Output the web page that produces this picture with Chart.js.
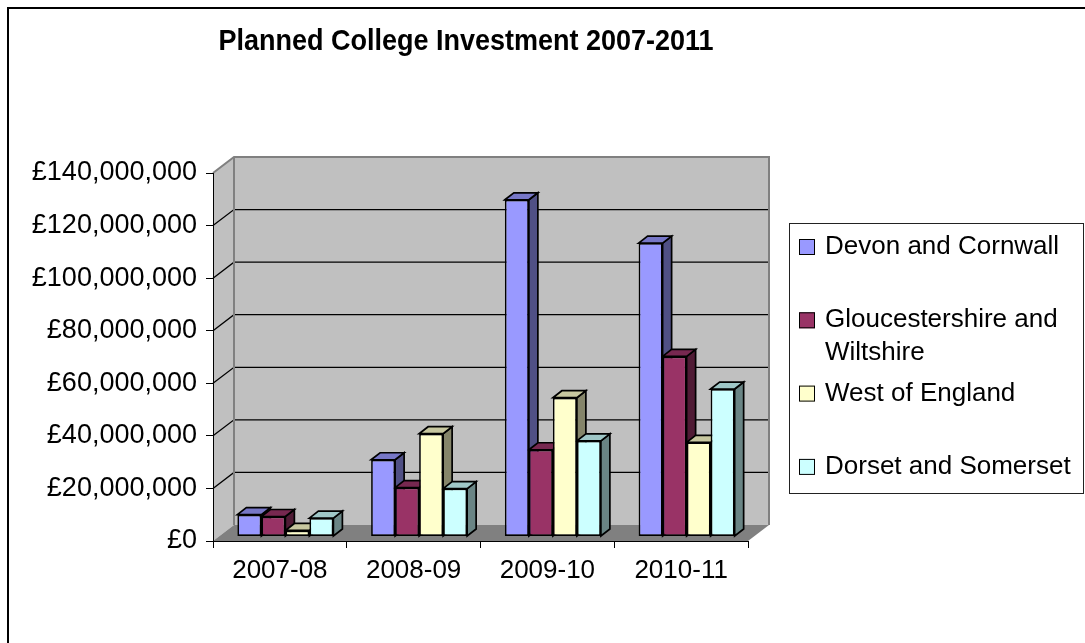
<!DOCTYPE html>
<html>
<head>
<meta charset="utf-8">
<title>Planned College Investment 2007-2011</title>
<script src="https://cdn.jsdelivr.net/npm/chart.js@4.4.1/dist/chart.umd.min.js"></script>
<style>
  html, body { margin: 0; padding: 0; background: #fff; }
  #wrap { width: 1085px; height: 643px; }
</style>
</head>
<body>
<div id="wrap"><canvas id="chart" width="1085" height="643"></canvas></div>
<script>
// ── data ──────────────────────────────────────────
const TITLE = 'Planned College Investment 2007-2011';
const categories = ['2007-08', '2008-09', '2009-10', '2010-11'];
const seriesNames = ['Devon and Cornwall', 'Gloucestershire and Wiltshire', 'West of England', 'Dorset and Somerset'];

const devonCornwall  = [8300000, 29200000, 128100000, 111600000];
const gloucsWilts    = [7600000, 18600000, 33000000, 68500000];
const westOfEngland  = [2300000, 39100000, 52800000, 35800000];
const dorsetSomerset = [7000000, 18200000, 36400000, 56100000];

const Y_MAX = 140000000;
const Y_STEP = 20000000;

// ── look ──────────────────────────────────────────
const FONT = '"Liberation Sans", Arial, sans-serif';
const COLORS = ['#9999FF', '#993366', '#FFFFCC', '#CCFFFF'];

// oblique depth: whole wall, bar front offset, bar depth
const WALL_DX = 21, WALL_DY = -16;
const BAR_OFF_X = 5.5, BAR_OFF_Y = -4.5;
const BAR_DX = 9, BAR_DY = -7;

function shade(hex, f) {
  const n = parseInt(hex.slice(1), 16);
  const r = Math.round(((n >> 16) & 255) * f);
  const g = Math.round(((n >> 8) & 255) * f);
  const b = Math.round((n & 255) * f);
  return `rgb(${r},${g},${b})`;
}

function pounds(v) {
  return '£' + String(Math.round(v)).replace(/\B(?=(\d{3})+(?!\d))/g, ',');
}

function poly(ctx, pts, fill, stroke, lw) {
  ctx.beginPath();
  ctx.moveTo(pts[0][0], pts[0][1]);
  for (let i = 1; i < pts.length; i++) ctx.lineTo(pts[i][0], pts[i][1]);
  ctx.closePath();
  if (fill) { ctx.fillStyle = fill; ctx.fill(); }
  if (stroke) { ctx.strokeStyle = stroke; ctx.lineWidth = lw || 1; ctx.stroke(); }
}

// ── walls, floor, bar tops/sides, title, legend ───
const excel3d = {
  id: 'excel3d',

  beforeDraw(chart) {
    const ctx = chart.ctx;
    const { left, right, top, bottom } = chart.chartArea;
    const y = chart.scales.y;

    ctx.save();
    ctx.fillStyle = '#fff';
    ctx.fillRect(0, 0, chart.width, chart.height);

    // outer frame (runs off the right and bottom edge)
    ctx.strokeStyle = '#000';
    ctx.lineWidth = 2;
    ctx.strokeRect(8, 8, chart.width + 20, chart.height + 20);

    // side wall, back wall, floor
    poly(ctx, [[left, top], [left + WALL_DX, top + WALL_DY], [left + WALL_DX, bottom + WALL_DY], [left, bottom]], '#C0C0C0');
    poly(ctx, [[left + WALL_DX, top + WALL_DY], [right + WALL_DX, top + WALL_DY], [right + WALL_DX, bottom + WALL_DY], [left + WALL_DX, bottom + WALL_DY]], '#C0C0C0');
    poly(ctx, [[left, bottom], [right, bottom], [right + WALL_DX, bottom + WALL_DY], [left + WALL_DX, bottom + WALL_DY]], '#808080');

    // gridlines on side + back wall
    ctx.strokeStyle = '#000';
    ctx.lineWidth = 1.3;
    y.ticks.forEach(t => {
      if (t.value <= y.min || t.value >= y.max) return;
      const py = y.getPixelForValue(t.value);
      ctx.beginPath();
      ctx.moveTo(left, py);
      ctx.lineTo(left + WALL_DX, py + WALL_DY);
      ctx.lineTo(right + WALL_DX, py + WALL_DY);
      ctx.stroke();
    });

    // wall edges
    ctx.strokeStyle = '#808080';
    ctx.lineWidth = 2;
    ctx.beginPath();
    ctx.moveTo(left, top);
    ctx.lineTo(left + WALL_DX, top + WALL_DY);
    ctx.lineTo(right + WALL_DX, top + WALL_DY);
    ctx.lineTo(right + WALL_DX, bottom + WALL_DY);
    ctx.moveTo(left + WALL_DX, top + WALL_DY);
    ctx.lineTo(left + WALL_DX, bottom + WALL_DY);
    ctx.stroke();
    ctx.restore();
  },

  // tops and sides of every bar, left to right, before the fronts
  beforeDatasetsDraw(chart) {
    const ctx = chart.ctx;
    ctx.save();
    ctx.translate(BAR_OFF_X, BAR_OFF_Y);
    ctx.lineJoin = 'miter';
    chart.data.datasets.forEach((ds, d) => {
      const meta = chart.getDatasetMeta(d);
      const base = COLORS[d];
      meta.data.forEach(bar => {
        const p = bar.getProps(['x', 'y', 'base', 'width'], true);
        const l = p.x - p.width / 2, r = p.x + p.width / 2;
        poly(ctx, [[r, p.y], [r + BAR_DX, p.y + BAR_DY], [r + BAR_DX, p.base + BAR_DY], [r, p.base]], shade(base, 0.52), '#000', 1.7);
        poly(ctx, [[l, p.y], [l + BAR_DX, p.y + BAR_DY], [r + BAR_DX, p.y + BAR_DY], [r, p.y]], shade(base, 0.78), '#000', 1.7);
      });
    });
    ctx.restore();
  },

  beforeDatasetDraw(chart) {
    chart.ctx.save();
    chart.ctx.translate(BAR_OFF_X, BAR_OFF_Y);
  },

  afterDatasetDraw(chart) {
    chart.ctx.restore();
  },

  afterDraw(chart) {
    const ctx = chart.ctx;
    ctx.save();

    // title (narrow, tall lettering as in the original)
    ctx.fillStyle = '#000';
    ctx.font = 'bold 30px ' + FONT;
    ctx.textAlign = 'center';
    ctx.textBaseline = 'middle';
    ctx.save();
    ctx.translate(466, 42);
    ctx.scale(0.9, 1);
    ctx.fillText(TITLE, 0, 0);
    ctx.restore();

    // legend box
    ctx.strokeStyle = '#222';
    ctx.lineWidth = 1;
    ctx.strokeRect(789.5, 223.5, 294, 270);

    ctx.font = '26px ' + FONT;
    ctx.textAlign = 'left';
    chart.data.datasets.forEach((ds, i) => {
      const y0 = 247 + i * 73.3;
      ctx.fillStyle = ds.backgroundColor;
      ctx.fillRect(799, y0 - 8, 16, 16);
      ctx.strokeStyle = '#000';
      ctx.strokeRect(799.5, y0 - 7.5, 15, 15);

      // wrap long names
      const words = ds.label.split(' ');
      const lines = [];
      let line = '';
      words.forEach(w => {
        const test = line ? line + ' ' + w : w;
        if (line && ctx.measureText(test).width > 252) { lines.push(line); line = w; }
        else line = test;
      });
      lines.push(line);
      ctx.fillStyle = '#000';
      lines.forEach((t, k) => ctx.fillText(t, 825, y0 + k * 33));
    });
    ctx.restore();
  }
};

// ── chart ─────────────────────────────────────────
const seriesValues = [devonCornwall, gloucsWilts, westOfEngland, dorsetSomerset];

new Chart(document.getElementById('chart'), {
  type: 'bar',
  data: {
    labels: categories,
    datasets: seriesNames.map((name, i) => ({
      label: name,
      data: seriesValues[i],
      backgroundColor: COLORS[i],
      borderColor: '#000',
      borderWidth: 1.7,
      borderSkipped: false,
      categoryPercentage: 0.718,
      barPercentage: 1,
      clip: false,
    })),
  },
  options: {
    responsive: false,
    animation: false,
    devicePixelRatio: 1,
    layout: { padding: { left: 0, top: 173, right: 337, bottom: 0 } },
    plugins: {
      legend: { display: false },
      title: { display: false },
      tooltip: { enabled: false },
    },
    scales: {
      x: {
        grid: { offset: true, drawOnChartArea: false, tickLength: 7, color: '#000' },
        border: { color: '#000', width: 1 },
        ticks: { color: '#000', font: { family: FONT, size: 26 }, padding: 7, maxRotation: 0, autoSkip: false },
        afterFit(scale) { scale.height = 102; },
      },
      y: {
        min: 0,
        max: Y_MAX,
        grid: { drawOnChartArea: false, tickLength: 7, color: '#000' },
        border: { color: '#000', width: 1 },
        ticks: { stepSize: Y_STEP, color: '#000', font: { family: FONT, size: 27 }, padding: 9, callback: v => pounds(v) },
        afterFit(scale) { scale.width = 213; },
      },
    },
  },
  plugins: [excel3d],
});
</script>
</body>
</html>
